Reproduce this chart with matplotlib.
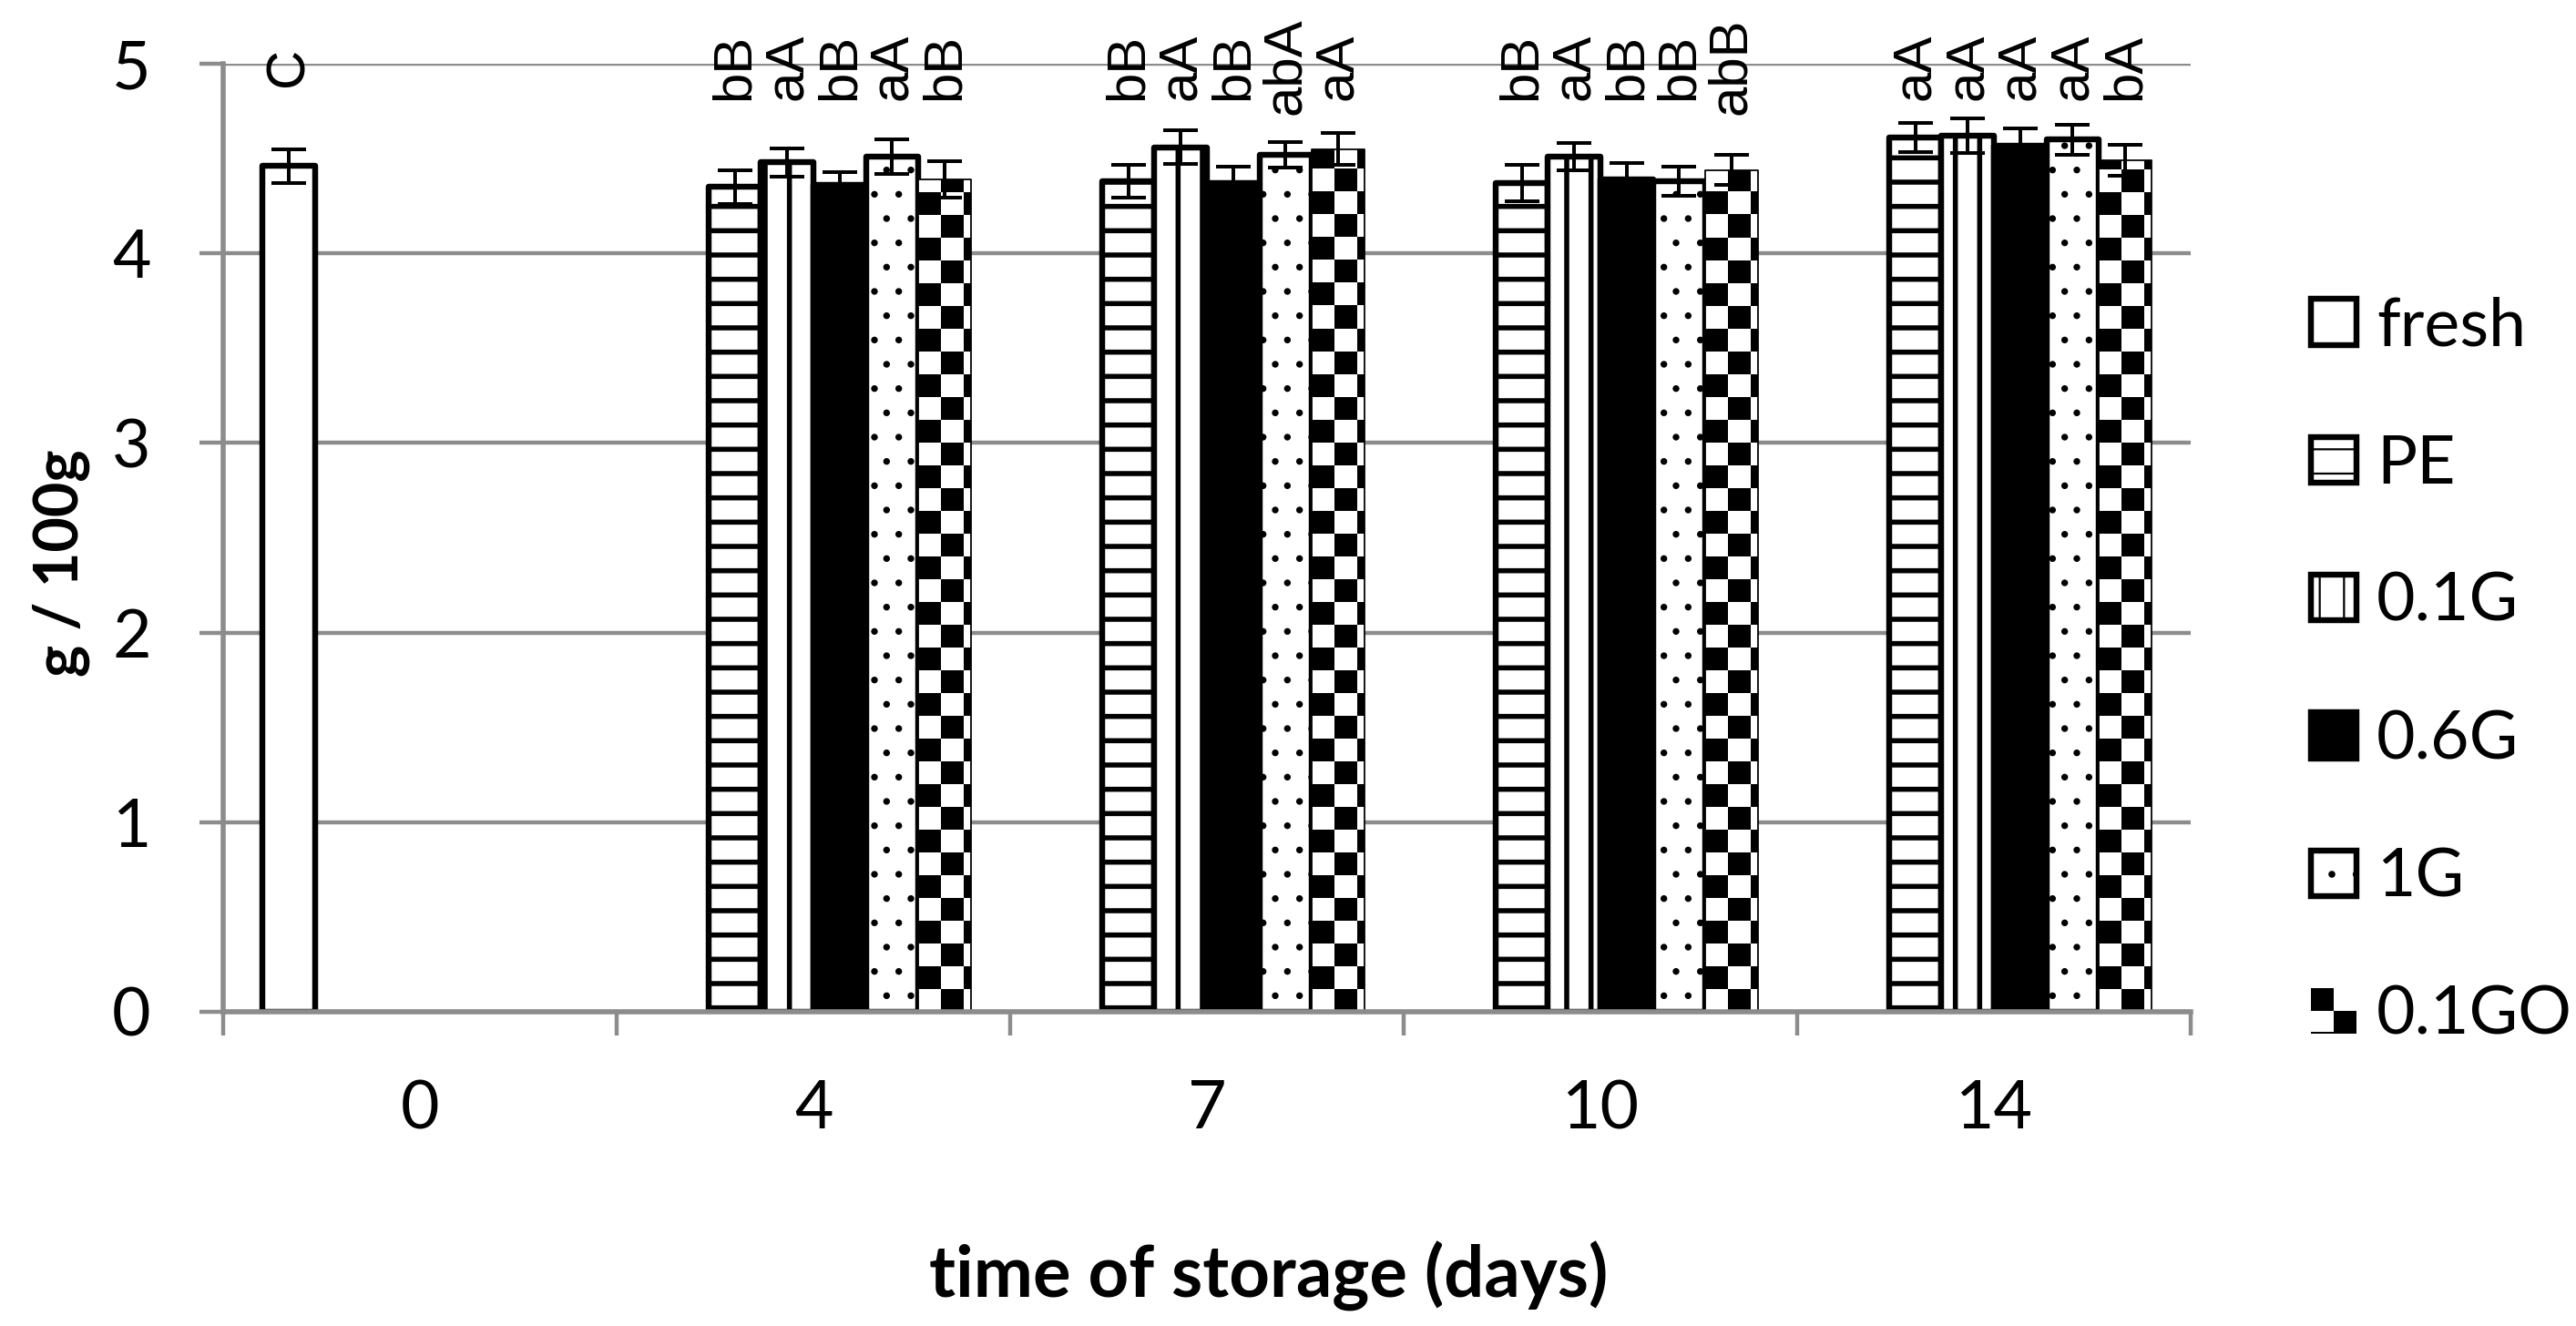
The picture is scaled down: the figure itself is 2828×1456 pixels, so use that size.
import numpy as np
import matplotlib
matplotlib.use("Agg")
import matplotlib.pyplot as plt
from matplotlib.legend_handler import HandlerBase
from matplotlib.patches import Rectangle

# ---------------- data ----------------
days = ["0", "4", "7", "10", "14"]
series_names = ["fresh", "PE", "0.1G", "0.6G", "1G", "0.1GO"]
nan = np.nan

fresh_vals = [4.46, nan, nan, nan, nan]
pe_vals = [nan, 4.35, 4.38, 4.37, 4.61]
g01_vals = [nan, 4.48, 4.56, 4.51, 4.62]
g06_vals = [nan, 4.36, 4.37, 4.39, 4.57]
g1_vals = [nan, 4.51, 4.52, 4.38, 4.60]
go01_vals = [nan, 4.39, 4.55, 4.44, 4.49]

fresh_err = [0.09, nan, nan, nan, nan]
pe_err = [nan, 0.09, 0.087, 0.096, 0.076]
g01_err = [nan, 0.074, 0.088, 0.074, 0.092]
g06_err = [nan, 0.069, 0.085, 0.087, 0.088]
g1_err = [nan, 0.09, 0.068, 0.078, 0.078]
go01_err = [nan, 0.098, 0.084, 0.08, 0.082]

fresh_lbl = ["C", "", "", "", ""]
pe_lbl = ["", "bB", "bB", "bB", "aA"]
g01_lbl = ["", "aA", "aA", "aA", "aA"]
g06_lbl = ["", "bB", "bB", "bB", "aA"]
g1_lbl = ["", "aA", "abA", "bB", "aA"]
go01_lbl = ["", "bB", "aA", "abB", "bA"]

yticks = [0, 1, 2, 3, 4, 5]

# ---------------- style ----------------
W, H, DPI = 2828, 1456, 160
GRAY = "#8c8c8c"
FONT = "Lato"
LBLFONT = "Liberation Sans"

fig = plt.figure(figsize=(W / DPI, H / DPI), dpi=DPI)
ax = fig.add_axes([245 / W, 1 - 1111 / H, (2405 - 245) / W, (1111 - 70) / H])
ax.set_xlim(-0.5, len(days) - 0.5)
ax.set_ylim(0, 5)

vals_all = [fresh_vals, pe_vals, g01_vals, g06_vals, g1_vals, go01_vals]
errs_all = [fresh_err, pe_err, g01_err, g06_err, g1_err, go01_err]
lbls_all = [fresh_lbl, pe_lbl, g01_lbl, g06_lbl, g1_lbl, go01_lbl]
styles = [
    dict(fc="white", hatch=None, hlw=1.0),
    dict(fc="white", hatch="-", hlw=2.5),
    dict(fc="white", hatch="|", hlw=2.5),
    dict(fc="black", hatch=None, hlw=1.0),
    dict(fc="white", hatch=".", hlw=0.9),
    dict(fc="none", hatch=None, hlw=1.0),
]

n = len(series_names)
bw = 1 / (n + 1.5)
x = np.arange(len(days))

ppx = ax.transData.transform((1, 0))[0] - ax.transData.transform((0, 0))[0]
ppy = ax.transData.transform((0, 1))[1] - ax.transData.transform((0, 0))[1]

containers = []
for k in range(n):
    v = np.array(vals_all[k], dtype=float)
    e = np.array(errs_all[k], dtype=float)
    m = ~np.isnan(v)
    xs = x[m] + (k - (n - 1) / 2) * bw
    st = styles[k]
    plt.rcParams["hatch.linewidth"] = st["hlw"]
    if k == 5:
        bars = ax.bar(xs, v[m], width=bw, facecolor="none", edgecolor="black",
                      linewidth=0.8, zorder=2.2, label=series_names[k])
    else:
        bars = ax.bar(xs, v[m], width=bw, facecolor=st["fc"], edgecolor="black",
                      linewidth=2.9, hatch=st["hatch"], zorder=2,
                      label=series_names[k])
    for p in bars:
        p.set_joinstyle("round")
        if hasattr(p, "set_hatch_linewidth"):
            p.set_hatch_linewidth(st["hlw"])
    containers.append(bars)
    if k == 5:
        cell = 25.0
        for p in bars:
            x0 = p.get_x()
            ncol = int(np.ceil(p.get_width() * ppx / cell))
            nrow = int(np.ceil(p.get_height() * ppy / cell))
            arr = np.add.outer(np.arange(nrow), np.arange(ncol)) % 2
            im = ax.imshow(arr, cmap="gray_r", vmin=0, vmax=1, origin="lower",
                           extent=(x0, x0 + ncol * cell / ppx, 0, nrow * cell / ppy),
                           interpolation="nearest", aspect="auto", zorder=2.1)
            im.set_clip_path(p)
    ax.errorbar(xs, v[m], yerr=e[m], fmt="none", ecolor="black", elinewidth=1.8,
                capsize=8.5, capthick=1.8, zorder=5)
    for xi, vi, lab in zip(x + (k - (n - 1) / 2) * bw, v, lbls_all[k]):
        if lab:
            ax.text(xi, 4.985, lab, rotation=90, ha="center", va="center",
                    fontsize=27, family=LBLFONT, color="black", zorder=6)

ax.set_xlim(-0.5, len(days) - 0.5)
ax.set_ylim(0, 5)

# axes styling
ax.set_axisbelow(True)
ax.yaxis.grid(True, color=GRAY, linewidth=2.0)
for s in ["top", "right"]:
    ax.spines[s].set_visible(False)
for s in ["left", "bottom"]:
    ax.spines[s].set_color(GRAY)
    ax.spines[s].set_linewidth(2.5)
    ax.spines[s].set_zorder(3)

ax.set_yticks(yticks)
ax.set_yticklabels([str(t) for t in yticks])
ax.set_xticks(x)
ax.set_xticklabels(days)
ax.set_xticks(np.arange(-0.5, len(days)), minor=True)
ax.tick_params(axis="x", which="major", length=0, pad=33.5, labelsize=33)
ax.tick_params(axis="x", which="minor", length=11.7, width=2.0, color=GRAY, direction="out")
ax.tick_params(axis="y", which="major", length=11.7, width=2.0, color=GRAY,
               direction="out", pad=24, labelsize=33)
for t in ax.get_xticklabels() + ax.get_yticklabels():
    t.set_family(FONT)

fig.text(1393 / W, 1 - 1425 / H, "time of storage (days)", ha="center", va="baseline",
         fontsize=35, fontweight="bold", family=FONT)
fig.text(67 / W, 1 - 618 / H, "g / 100g", ha="center", va="center", rotation=90,
         fontsize=30, fontweight="bold", family=FONT)


class CheckerHandler(HandlerBase):
    def create_artists(self, legend, orig_handle, xdescent, ydescent, width, height,
                       fontsize, trans):
        x0, y0 = -xdescent, -ydescent
        hw, hh = width / 2, height / 2
        r1 = Rectangle((x0, y0 + hh), hw, hh, facecolor="black", edgecolor="none",
                       transform=trans)
        r2 = Rectangle((x0 + hw, y0), hw, hh, facecolor="black", edgecolor="none",
                       transform=trans)
        r3 = Rectangle((x0, y0), hw, height * 0.04, facecolor="black", edgecolor="none",
                       transform=trans)
        return [r1, r2, r3]


leg = ax.legend(containers, series_names, loc="center left",
                bbox_to_anchor=(2537 / W, 1 - 737 / H), bbox_transform=fig.transFigure,
                frameon=False, borderpad=0, borderaxespad=0,
                handlelength=0.68, handleheight=0.68, handletextpad=0.3,
                labelspacing=1.15, prop={"family": FONT, "size": 33},
                handler_map={containers[5]: CheckerHandler()})

fig.savefig("out.png", dpi=DPI)
